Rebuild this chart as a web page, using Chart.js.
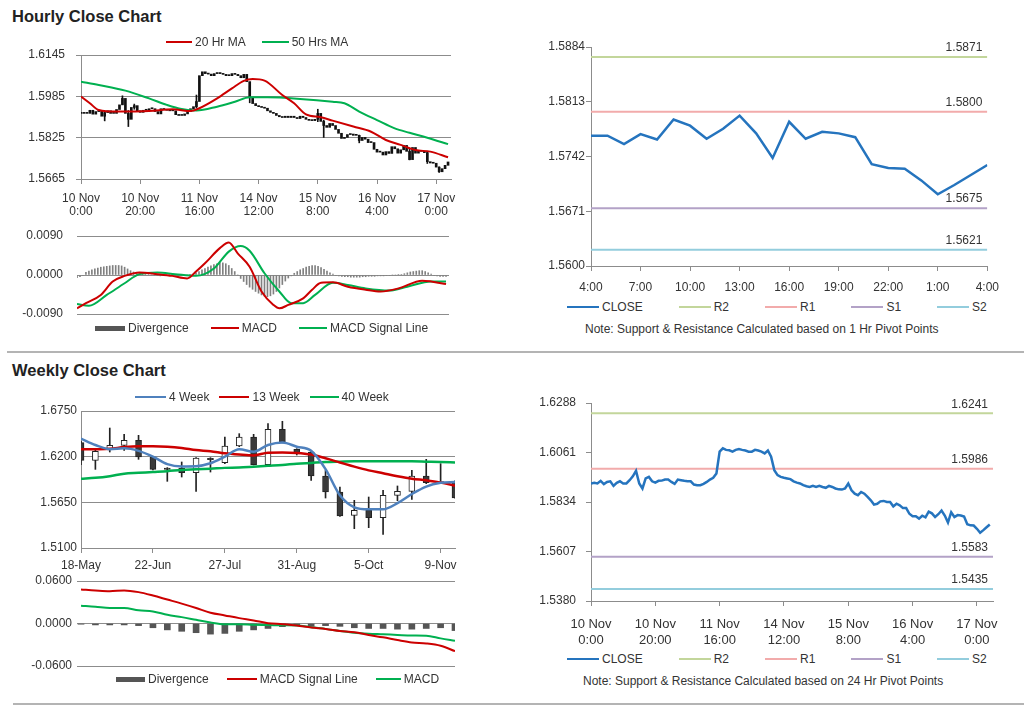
<!DOCTYPE html>
<html>
<head>
<meta charset="utf-8">
<script src="https://cdn.jsdelivr.net/npm/chart.js@4.4.1/dist/chart.umd.min.js"></script>
<style>
  body { margin: 0; width: 1024px; height: 706px; background: #fff; font-family: "Liberation Sans", Arial, sans-serif; color: #333; overflow: hidden; }
  .panel { position: absolute; }
  .title { position: absolute; left: 12px; font-size: 16.5px; font-weight: bold; color: #222; line-height: 18px; }
  .rule { position: absolute; right: 0; height: 2px; background: #b4b4b4; }
  .lg { position: absolute; display: flex; align-items: center; font-size: 12px; line-height: 14px; white-space: nowrap; }
  .lg .it { display: flex; align-items: center; }
  .lg .it i { display: inline-block; margin-right: 3px; }
  .note { position: absolute; font-size: 12px; line-height: 14px; white-space: nowrap; }
</style>
</head>
<body>
<div class="title" style="top:7px">Hourly Close Chart</div>
<div class="title" style="top:361px">Weekly Close Chart</div>
<div class="rule" style="left:7px;top:351px"></div>
<div class="rule" style="left:13px;top:703px"></div>

<div class="panel" style="left:20px;top:36px;width:451px;height:183px"><canvas id="hourly"></canvas></div>
<div class="panel" style="left:20px;top:214px;width:439px;height:122px"><canvas id="hourlyMacd"></canvas></div>
<div class="panel" style="left:535px;top:37px;width:474px;height:259px"><canvas id="pivot1h"></canvas></div>
<div class="panel" style="left:20px;top:399px;width:445px;height:175px"><canvas id="weekly"></canvas></div>
<div class="panel" style="left:20px;top:568px;width:445px;height:111px"><canvas id="weeklyMacd"></canvas></div>
<div class="panel" style="left:535px;top:385px;width:474px;height:262px"><canvas id="pivot24h"></canvas></div>

<div class="note" style="left:585px;top:322px">Note: Support &amp; Resistance Calculated based on 1 Hr Pivot Points</div>
<div class="note" style="left:583px;top:674px">Note: Support &amp; Resistance Calculated based on 24 Hr Pivot Points</div>

<script>
// hourly closes, 10 Nov 0:00 .. 17 Nov 4:00 (125 bars)
const hourlyClose = [
  1.5919, 1.5922, 1.5919, 1.5931, 1.5916, 1.5926, 1.5929, 1.5908, 1.5922, 1.5929,
  1.5919, 1.5919, 1.5934, 1.5952, 1.5977, 1.5919, 1.5896, 1.5942, 1.5949, 1.5929,
  1.5923, 1.5931, 1.5932, 1.5937, 1.5937, 1.5926, 1.5917, 1.5937, 1.5934, 1.5931,
  1.5929, 1.5929, 1.5914, 1.5911, 1.5911, 1.5917, 1.5926, 1.5937, 1.5945, 1.5965,
  1.6065, 1.6080, 1.6073, 1.6071, 1.6065, 1.6073, 1.6077, 1.6073, 1.6070, 1.6065,
  1.6065, 1.6073, 1.6070, 1.6065, 1.6057, 1.6070, 1.6042, 1.5980, 1.5957, 1.5949,
  1.5945, 1.5942, 1.5939, 1.5929, 1.5923, 1.5919, 1.5911, 1.5906, 1.5903, 1.5908,
  1.5903, 1.5908, 1.5903, 1.5899, 1.5908, 1.5903, 1.5896, 1.5892, 1.5891, 1.5896,
  1.5919, 1.5888, 1.5872, 1.5865, 1.5880, 1.5872, 1.5857, 1.5842, 1.5822, 1.5826,
  1.5837, 1.5839, 1.5834, 1.5834, 1.5814, 1.5826, 1.5819, 1.5806, 1.5806, 1.5780,
  1.5769, 1.5769, 1.5758, 1.5771, 1.5764, 1.5790, 1.5782, 1.5765, 1.5778, 1.5795,
  1.5772, 1.5740, 1.5787, 1.5765, 1.5774, 1.5772, 1.5767, 1.5732, 1.5727, 1.5726,
  1.5711, 1.5693, 1.5705, 1.5718, 1.5731
];
// notable hourly wicks: [bar, low, high]
const hourlyWicks = [
  [8, 1.5890, 1.5925], [14, 1.5955, 1.5987], [16, 1.5868, 1.5930], [18, 1.5935, 1.5955],
  [39, 1.5940, 1.5990], [57, 1.5960, 1.6025], [80, 1.5887, 1.5935], [82, 1.5826, 1.5893],
  [94, 1.5805, 1.5835], [111, 1.5739, 1.5784], [117, 1.5725, 1.5770], [121, 1.5690, 1.5712]
];
// moving averages read at [bar, value]
const ma20Hourly = [
  [0, 1.5984], [3, 1.5958], [6, 1.5932], [12, 1.5926], [23, 1.5928], [31, 1.5935], [37, 1.5928],
  [40, 1.5939], [46, 1.5977], [51, 1.6016], [55, 1.6045], [58, 1.6052], [62, 1.6046], [68, 1.5990],
  [72, 1.5958], [76, 1.5915], [81, 1.5904], [85, 1.5891], [92, 1.5868], [98, 1.5848], [103, 1.5816],
  [108, 1.5797], [113, 1.5777], [118, 1.5771], [124, 1.5749]
];
const ma50Hourly = [
  [0, 1.6042], [6, 1.6029], [15, 1.6007], [23, 1.5977], [29, 1.5952], [34, 1.5936], [39, 1.5930],
  [46, 1.5945], [52, 1.5964], [57, 1.5981], [63, 1.5981], [74, 1.5975], [85, 1.5964], [89, 1.5958],
  [94, 1.5926], [100, 1.5893], [106, 1.5861], [111, 1.5844], [117, 1.5825], [124, 1.5800]
];
const macdHourly = [
  [0, -0.0077], [3, -0.0065], [8, -0.0046], [12, -0.0015], [16, -0.0002], [21, 0.0006], [27, 0.0002],
  [32, -0.0002], [37, -0.0008], [40, 0.0008], [43, 0.0027], [48, 0.0062], [51, 0.0075], [54, 0.0050],
  [58, 0.0019], [62, -0.0038], [66, -0.0069], [68, -0.0077], [71, -0.0069], [76, -0.0054], [79, -0.0034],
  [82, -0.0018], [86, -0.0017], [91, -0.0027], [97, -0.0034], [102, -0.0038], [108, -0.0031],
  [116, -0.0013], [119, -0.0015], [124, -0.0021]
];
const signalHourly = [
  [0, -0.0067], [4, -0.0071], [10, -0.0046], [16, -0.0019], [21, 0.0002], [27, 0.0006], [33, 0.0002],
  [40, -0.0002], [46, 0.0015], [51, 0.0054], [55, 0.0067], [58, 0.0056], [63, 0.0004], [68, -0.0038],
  [72, -0.0065], [76, -0.0065], [80, -0.0046], [86, -0.0018], [91, -0.0023], [97, -0.0031],
  [105, -0.0036], [111, -0.0027], [119, -0.0015], [124, -0.0015]
];
// divergence per hour, in units of 0.0001
const divergenceHourly = [
  -6, -4, -1,
  6, 9, 12, 14, 16, 18, 19, 20, 21, 22, 22, 22, 21, 18, 14, 10,
  7, 5, 3, 2, 1, 1,
  0, -1, -1, -2, -1, 0, 1, 1, 0, -1, -1, -1, 0, 1, 2,
  5, 8, 12, 15, 18, 21, 24, 26, 28, 28, 26, 22, 15, 8,
  0, -8, -15, -22, -28, -33, -38, -42, -46, -49, -50, -48, -44, -38, -30, -22, -14, -7, -2,
  4, 8, 12, 15, 18, 20, 22, 22, 20, 17, 13, 9, 5, 2,
  -1, -2, -3, -4, -4, -5, -5, -5, -5, -4, -4, -3, -3, -3, -2, -2, -2, -1, -1, 0, 0, 1, 1,
  3, 5, 7, 8, 9, 10, 10, 8, 5,
  2, -1, -2, -3, -3, -3
];
const hourTickBars = [0, 20, 40, 60, 80, 100, 120];
const hourTickLabels = [
  ['10 Nov', '0:00'], ['10 Nov', '20:00'], ['11 Nov', '16:00'], ['14 Nov', '12:00'],
  ['15 Nov', '8:00'], ['16 Nov', '4:00'], ['17 Nov', '0:00']
];

// last 24 hours (1 Hr pivot panel)
const pivotStart = 100;
const pivotTickBars = [0, 3, 6, 9, 12, 15, 18, 21, 24];
const pivotTickLabels = ['4:00', '7:00', '10:00', '13:00', '16:00', '19:00', '22:00', '1:00', '4:00'];
const levelNames = ['R2', 'R1', 'S1', 'S2'];
const levels1h = [1.5871, 1.5800, 1.5675, 1.5621];
const levels24h = [1.6241, 1.5986, 1.5583, 1.5435];

// weekly candles, 18-May .. 16-Nov
const weekOpen  = [1.6369, 1.6156, 1.6288, 1.6336, 1.6397, 1.6196, 1.6063, 1.6063, 1.6007, 1.6180, 1.6128, 1.6328, 1.6437, 1.6104,
                   1.6529, 1.6288, 1.6256, 1.5967, 1.5774, 1.5493, 1.5553, 1.5465, 1.5734, 1.5782, 1.5967, 1.5887, 1.5903];
const weekClose = [1.6156, 1.6264, 1.6336, 1.6397, 1.6196, 1.6047, 1.6047, 1.6007, 1.6184, 1.6164, 1.6328, 1.6437, 1.6104, 1.6529,
                   1.6369, 1.6248, 1.5967, 1.5774, 1.5485, 1.5553, 1.5465, 1.5734, 1.5782, 1.5967, 1.5887, 1.5890, 1.5702];
const weekHigh  = [1.6385, 1.6280, 1.6545, 1.6469, 1.6457, 1.6200, 1.6068, 1.6136, 1.6190, 1.6188, 1.6437, 1.6477, 1.6469, 1.6597,
                   1.6626, 1.6296, 1.6276, 1.6035, 1.5835, 1.5674, 1.5714, 1.5794, 1.5847, 1.6035, 1.6168, 1.6116, 1.5910];
const weekLow   = [1.6104, 1.6047, 1.6256, 1.6276, 1.6168, 1.6040, 1.5903, 1.5955, 1.5782, 1.6015, 1.6116, 1.6320, 1.6100, 1.6100,
                   1.6365, 1.6220, 1.5915, 1.5702, 1.5480, 1.5333, 1.5345, 1.5264, 1.5670, 1.5686, 1.5875, 1.5880, 1.5700];
const ma4Week  = [1.6417, 1.6340, 1.6290, 1.6300, 1.6270, 1.6200, 1.6110, 1.6083, 1.6085, 1.6120, 1.6200, 1.6290, 1.6260, 1.6340,
                  1.6370, 1.6320, 1.6270, 1.6050, 1.5734, 1.5590, 1.5566, 1.5566, 1.5640, 1.5750, 1.5840, 1.5885, 1.5895];
const ma13Week = [1.6288, 1.6290, 1.6295, 1.6315, 1.6325, 1.6325, 1.6320, 1.6305, 1.6280, 1.6265, 1.6240, 1.6225, 1.6215, 1.6248,
                  1.6250, 1.6245, 1.6225, 1.6180, 1.6130, 1.6080, 1.6035, 1.6000, 1.5965, 1.5935, 1.5915, 1.5890, 1.5850];
const ma40Week = [1.5935, 1.5945, 1.5965, 1.5995, 1.6005, 1.6015, 1.6025, 1.6040, 1.6047, 1.6055, 1.6065, 1.6070, 1.6080, 1.6090,
                  1.6100, 1.6115, 1.6125, 1.6135, 1.6140, 1.6144, 1.6144, 1.6144, 1.6144, 1.6144, 1.6140, 1.6136, 1.6130];
const signalWeekly = [0.0481, 0.0467, 0.0457, 0.0467, 0.0443, 0.0395, 0.0338, 0.0281, 0.0219, 0.0152, 0.0114, 0.0076, 0.0043, 0.0005,
                      -0.0010, -0.0029, -0.0057, -0.0076, -0.0105, -0.0124, -0.0162, -0.0195, -0.0233, -0.0267, -0.0281, -0.0314, -0.0390];
const macdWeekly = [0.0252, 0.0238, 0.0219, 0.0219, 0.0186, 0.0171, 0.0124, 0.0090, 0.0052, 0.0014, -0.0010, -0.0010, -0.0019, -0.0022,
                    -0.0026, -0.0029, -0.0052, -0.0076, -0.0105, -0.0129, -0.0143, -0.0152, -0.0162, -0.0171, -0.0172, -0.0210, -0.0243];
const divergenceWeekly = [-0.0010, -0.0020, -0.0020, -0.0020, -0.0030, -0.0060, -0.0090, -0.0110, -0.0130, -0.0150, -0.0140, -0.0110,
                          -0.0090, -0.0070, -0.0045, -0.0030, -0.0040, -0.0030, -0.0040, -0.0060, -0.0070, -0.0070, -0.0080, -0.0080,
                          -0.0070, -0.0060, -0.0100];
const weekTickBars = [0, 5, 10, 15, 20, 25];
const weekTickLabels = ['18-May', '22-Jun', '27-Jul', '31-Aug', '5-Oct', '9-Nov'];

const RED = '#cc0000', GREEN = '#00b050', BLUE = '#4f81bd', CLOSE_BLUE = '#2574be';
const LEVEL_COLORS = ['#c3d69b', '#f2abab', '#b3a2c7', '#93cddd'];
const AXIS = '#8c8c8c';

Chart.defaults.font.family = '"Liberation Sans", Arial, sans-serif';
Chart.defaults.font.size = 12;
Chart.defaults.color = '#333';
Chart.defaults.animation = false;
Chart.defaults.events = [];
Chart.defaults.maintainAspectRatio = false;
Chart.defaults.plugins.legend.display = false;
Chart.defaults.plugins.tooltip.enabled = false;
Chart.defaults.elements.point.radius = 0;

function xAxis(min, max, tickAt, tickText, height, o = {}) {
  return {
    type: 'linear', min, max, offset: false, display: o.display !== false,
    afterBuildTicks: s => { s.ticks = tickAt.map(v => ({ value: v })); },
    afterFit: s => { s.height = height; },
    ticks: { callback: (v, i) => tickText[i], maxRotation: 0, autoSkip: false, padding: o.pad,
             font: { size: o.size || 12, lineHeight: o.lh || 1.1 } },
    grid: { offset: false, drawOnChartArea: false, tickLength: 5, color: AXIS },
    border: { color: AXIS }
  };
}
function yAxis(min, max, tickAt, width, o = {}) {
  return {
    min, max,
    afterBuildTicks: s => { s.ticks = tickAt.map(v => ({ value: v })); },
    afterFit: s => { s.width = width; },
    ticks: { callback: v => v.toFixed(4), padding: o.pad },
    grid: { drawOnChartArea: o.grid !== false, drawTicks: o.tick !== false, tickLength: 5, color: AXIS },
    border: { display: o.border !== false, color: AXIS }
  };
}
const pts = arr => arr.map(([x, y]) => ({ x, y }));
const line = (label, data, color, width, order) => ({
  type: 'line', label, data, borderColor: color, backgroundColor: color, borderWidth: width,
  cubicInterpolationMode: 'monotone', order
});

// value labels above the pivot lines
const levelLabels = {
  id: 'levelLabels',
  afterDatasetsDraw(chart, args, opts) {
    const { ctx, chartArea, scales } = chart;
    ctx.save();
    ctx.font = '12px "Liberation Sans", Arial, sans-serif';
    ctx.fillStyle = '#333';
    ctx.textAlign = 'right';
    ctx.textBaseline = 'bottom';
    opts.values.forEach(v => ctx.fillText(v.toFixed(4), chartArea.right - opts.inset, scales.y.getPixelForValue(v) - 3));
    ctx.restore();
  }
};

// hourly candles
new Chart(document.getElementById('hourly'), {
  type: 'bar',
  data: {
    datasets: [
      line('20 Hr MA', pts(ma20Hourly), RED, 2, 0),
      line('50 Hrs MA', pts(ma50Hourly), GREEN, 2, 0),
      { label: 'body', order: 1, grouped: false, clip: 0, barThickness: 2, minBarLength: 1, backgroundColor: '#111',
        data: hourlyClose.map((c, i) => ({ x: i, y: [i ? hourlyClose[i - 1] : c, c] })) },
      { label: 'wick', order: 2, grouped: false, clip: 0, barThickness: 1, backgroundColor: '#111',
        data: hourlyWicks.map(([i, lo, hi]) => ({ x: i, y: [lo, hi] })) }
    ]
  },
  options: {
    layout: { padding: { top: 19, right: 20, bottom: 0, left: 0 } },
    scales: {
      x: xAxis(0, 125, hourTickBars, hourTickLabels, 40, { pad: 8 }),
      y: yAxis(1.5665, 1.6145, [1.5665, 1.5825, 1.5985, 1.6145], 61, { pad: 11 })
    }
  }
});

// hourly MACD
new Chart(document.getElementById('hourlyMacd'), {
  type: 'bar',
  data: {
    datasets: [
      line('MACD', pts(macdHourly), RED, 2, 0),
      line('MACD Signal Line', pts(signalHourly), GREEN, 2, 0),
      { label: 'Divergence', order: 1, grouped: false, clip: 0, barThickness: 1, backgroundColor: '#808080',
        data: divergenceHourly.map((d, i) => ({ x: i, y: d / 10000 })) }
    ]
  },
  options: {
    layout: { padding: { top: 22, right: 10, bottom: 22, left: 0 } },
    scales: {
      x: xAxis(0, 125, [], [], 0, { display: false }),
      y: yAxis(-0.009, 0.009, [-0.009, 0, 0.009], 57, { pad: 14, tick: false, border: false })
    }
  }
});

// pivot panels
function pivotChart(id, closes, xMax, tickAt, tickText, yMin, yMax, yTicks, levels, xo) {
  return new Chart(document.getElementById(id), {
    type: 'line',
    data: {
      datasets: [
        { label: 'CLOSE', data: closes.map((c, i) => ({ x: i, y: c })), borderColor: CLOSE_BLUE,
          borderWidth: 2.5, tension: 0, order: 0 },
        ...levels.map((v, k) => ({ label: levelNames[k], data: [{ x: 0, y: v }, { x: xMax, y: v }],
          borderColor: LEVEL_COLORS[k], borderWidth: 2, order: 1 }))
      ]
    },
    options: {
      layout: { padding: { top: xo.top, right: 12, bottom: 0, left: 0 } },
      scales: {
        x: xAxis(0, xMax, tickAt, tickText, xo.h, xo),
        y: yAxis(yMin, yMax, yTicks, 56, { pad: xo.ypad, grid: false })
      },
      plugins: { levelLabels: { values: levels, inset: 5 } }
    },
    plugins: [levelLabels]
  });
}
pivotChart('pivot1h', hourlyClose.slice(pivotStart), 24, pivotTickBars, pivotTickLabels,
  1.5600, 1.5884, [1.5600, 1.5671, 1.5742, 1.5813, 1.5884], levels1h, { top: 10, h: 30, pad: 10, ypad: 1 });
pivotChart('pivot24h', hourlyClose, 125, hourTickBars, hourTickLabels,
  1.5380, 1.6288, [1.5380, 1.5607, 1.5834, 1.6061, 1.6288], levels24h, { top: 18, h: 46, pad: 11, size: 13, lh: 1.18, ypad: 10 });

// weekly candles
const weekIdx = weekClose.map((c, i) => i);
new Chart(document.getElementById('weekly'), {
  type: 'bar',
  data: {
    datasets: [
      line('4 Week', weekIdx.map(i => ({ x: i, y: ma4Week[i] })), BLUE, 2.5, 0),
      line('13 Week', weekIdx.map(i => ({ x: i, y: ma13Week[i] })), RED, 2.5, 0),
      line('40 Week', weekIdx.map(i => ({ x: i, y: ma40Week[i] })), GREEN, 2.5, 0),
      { label: 'body', order: 1, grouped: false, clip: 0, barThickness: 6, minBarLength: 1, borderWidth: 1, borderColor: '#222',
        borderSkipped: false,
        backgroundColor: weekIdx.map(i => weekClose[i] < weekOpen[i] ? '#3a3a3a' : '#ffffff'),
        data: weekIdx.map(i => ({ x: i, y: [weekOpen[i], weekClose[i]] })) },
      { label: 'wick', order: 2, grouped: false, clip: 0, barThickness: 1, backgroundColor: '#222',
        data: weekIdx.map(i => ({ x: i, y: [weekLow[i], weekHigh[i]] })) }
    ]
  },
  options: {
    layout: { padding: { top: 12, right: 10, bottom: 0, left: 0 } },
    scales: {
      x: xAxis(0, 26, weekTickBars, weekTickLabels, 26, { pad: 6 }),
      y: yAxis(1.5100, 1.6750, [1.5100, 1.5650, 1.6200, 1.6750], 61, { pad: 4, tick: false })
    }
  }
});

// weekly MACD
new Chart(document.getElementById('weeklyMacd'), {
  type: 'bar',
  data: {
    datasets: [
      line('MACD Signal Line', weekIdx.map(i => ({ x: i, y: signalWeekly[i] })), RED, 2, 0),
      line('MACD', weekIdx.map(i => ({ x: i, y: macdWeekly[i] })), GREEN, 2, 0),
      { label: 'Divergence', order: 1, grouped: false, clip: 0, barThickness: 6, backgroundColor: '#555',
        data: weekIdx.map(i => ({ x: i, y: divergenceWeekly[i] })) }
    ]
  },
  options: {
    layout: { padding: { top: 13, right: 10, bottom: 13, left: 0 } },
    scales: {
      x: xAxis(-0.28, 26, [], [], 0, { display: false }),
      y: yAxis(-0.06, 0.06, [-0.06, 0, 0.06], 57, { pad: 5, tick: false, border: false })
    }
  }
});

// HTML legends
function legend(left, cy, gap, items) {
  const d = document.createElement('div');
  d.className = 'lg';
  d.style.left = left + 'px';
  d.style.top = (cy - 7) + 'px';
  d.style.gap = gap + 'px';
  items.forEach(([text, color, w, h]) => {
    const s = document.createElement('span');
    s.className = 'it';
    const m = document.createElement('i');
    m.style.width = w + 'px';
    m.style.height = h + 'px';
    m.style.background = color;
    s.appendChild(m);
    s.appendChild(document.createTextNode(text));
    d.appendChild(s);
  });
  document.body.appendChild(d);
}
legend(166, 42, 16, [['20 Hr MA', RED, 26, 2], ['50 Hrs MA', GREEN, 27, 2]]);
legend(95, 328, 22, [['Divergence', '#555', 30, 5], ['MACD', RED, 28, 2], ['MACD Signal Line', GREEN, 28, 2]]);
const pivotItems = [['CLOSE', CLOSE_BLUE, 32, 2]].concat(levelNames.map((n, k) => [n, LEVEL_COLORS[k], 32, 1.5]));
legend(567, 307, 36, pivotItems);
legend(567, 659, 36, pivotItems);
legend(135, 397, 10, [['4 Week', BLUE, 31, 2], ['13 Week', RED, 30, 2], ['40 Week', GREEN, 29, 2]]);
legend(116, 679, 18, [['Divergence', '#555', 29, 5], ['MACD Signal Line', RED, 30, 2], ['MACD', GREEN, 25, 2]]);
</script>
</body>
</html>
